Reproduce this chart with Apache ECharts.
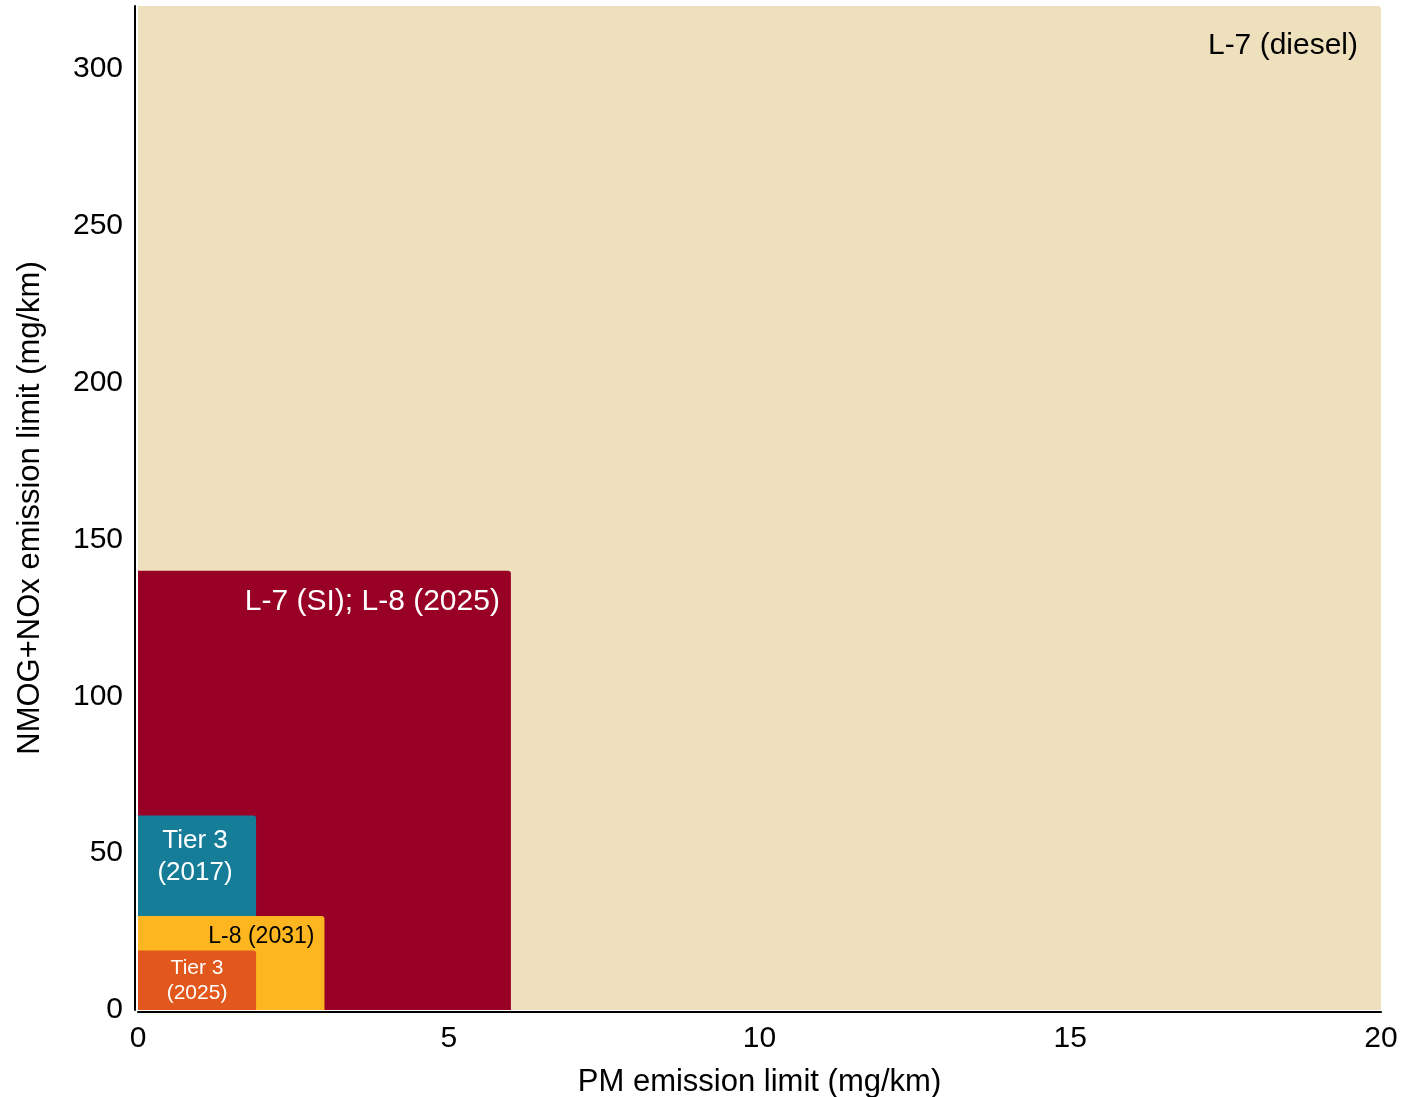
<!DOCTYPE html>
<html>
<head>
<meta charset="utf-8">
<title>Emission limits</title>
<script src="https://cdn.jsdelivr.net/npm/echarts@6/dist/echarts.min.js"></script>
<style>
  html, body { margin: 0; padding: 0; background: #fff; }
  #chart { width: 1404px; height: 1097px; }
</style>
</head>
<body>
<div id="chart"></div>
<script>
// 各标准的限值（从底层到顶层的绘制顺序）
const standards = ['L-7 (diesel)', 'L-7 (SI); L-8 (2025)', 'Tier 3\n(2017)', 'L-8 (2031)', 'Tier 3\n(2025)']
const pmLimits = [20, 6, 1.9, 3, 1.9]
const nmogLimits = [320, 140, 62, 30, 19]
const xTicks = [0, 5, 10, 15, 20]
const yTicks = [0, 50, 100, 150, 200, 250, 300]

const colors = ['#EEE0BD', '#990026', '#167D99', '#FDB520', '#E2571B']
const FONT = '"Liberation Sans", Arial, Helvetica, sans-serif'

// 标签样式：锚点相对矩形
const labelStyles = [
  { anchor: 'topRight', dx: -23, dy: 40, size: 30, color: '#000', lh: 32 },
  { anchor: 'topRight', dx: -11, dy: 31, size: 30, color: '#fff', lh: 32 },
  { anchor: 'topCenter', dx: -2, dy: 41, size: 26, color: '#fff', lh: 32 },
  { anchor: 'topRight', dx: -10, dy: 21, size: 23, color: '#000', lh: 26 },
  { anchor: 'topCenter', dx: 0, dy: 30, size: 21, color: '#fff', lh: 25 }
]

const chart = echarts.init(document.getElementById('chart'))

const option = {
  animation: false,
  grid: { left: 138, right: 23, top: 6, bottom: 87, containLabel: false, outerBoundsMode: 'none' },
  xAxis: {
    type: 'value',
    min: 0,
    max: 20,
    interval: 5,
    offset: 2,
    name: 'PM emission limit (mg/km)',
    nameLocation: 'middle',
    nameGap: 55,
    nameTextStyle: { fontSize: 31, color: '#000', fontFamily: FONT },
    axisLine: { show: true, onZero: false, lineStyle: { color: '#000', width: 2 } },
    axisTick: { show: false },
    splitLine: { show: false },
    axisLabel: {
      fontSize: 30, color: '#000', fontFamily: FONT, margin: 12,
      formatter: v => xTicks.includes(v) ? String(v) : ''
    }
  },
  yAxis: {
    type: 'value',
    min: 0,
    max: 320,
    interval: 50,
    offset: 3,
    name: 'NMOG+NOx emission limit (mg/km)',
    nameLocation: 'middle',
    nameGap: 89,
    nameTextStyle: { fontSize: 31, color: '#000', fontFamily: FONT },
    axisLine: { show: true, onZero: false, lineStyle: { color: '#000', width: 2 } },
    axisTick: { show: false },
    splitLine: { show: false },
    axisLabel: {
      fontSize: 30, color: '#000', fontFamily: FONT, margin: 12,
      formatter: v => yTicks.includes(v) ? String(v) : ''
    }
  },
  series: [
    {
      type: 'custom',
      clip: true,
      data: standards.map((s, i) => [pmLimits[i], nmogLimits[i], s]),
      encode: { x: 0, y: 1 },
      renderItem: function (params, api) {
        const i = params.dataIndex
        const p0 = api.coord([0, 0])
        const p1 = api.coord([api.value(0), api.value(1)])
        const ls = labelStyles[i]
        const left = p0[0], right = p1[0], top = p1[1], bottom = p0[1]
        let tx = right + ls.dx
        let align = 'right'
        if (ls.anchor === 'topCenter') {
          tx = (left + right) / 2 + ls.dx
          align = 'center'
        }
        return {
          type: 'group',
          children: [
            {
              type: 'rect',
              shape: { x: left, y: top, width: right - left, height: bottom - top, r: [0, 3, 0, 0] },
              style: { fill: colors[i] }
            },
            {
              type: 'text',
              x: tx,
              y: top + ls.dy,
              style: {
                text: standards[i],
                fill: ls.color,
                font: ls.size + 'px ' + FONT,
                align: align,
                verticalAlign: 'middle',
                lineHeight: ls.lh
              }
            }
          ]
        }
      }
    }
  ]
}

chart.setOption(option)
window.addEventListener('resize', () => chart.resize())
</script>
</body>
</html>
